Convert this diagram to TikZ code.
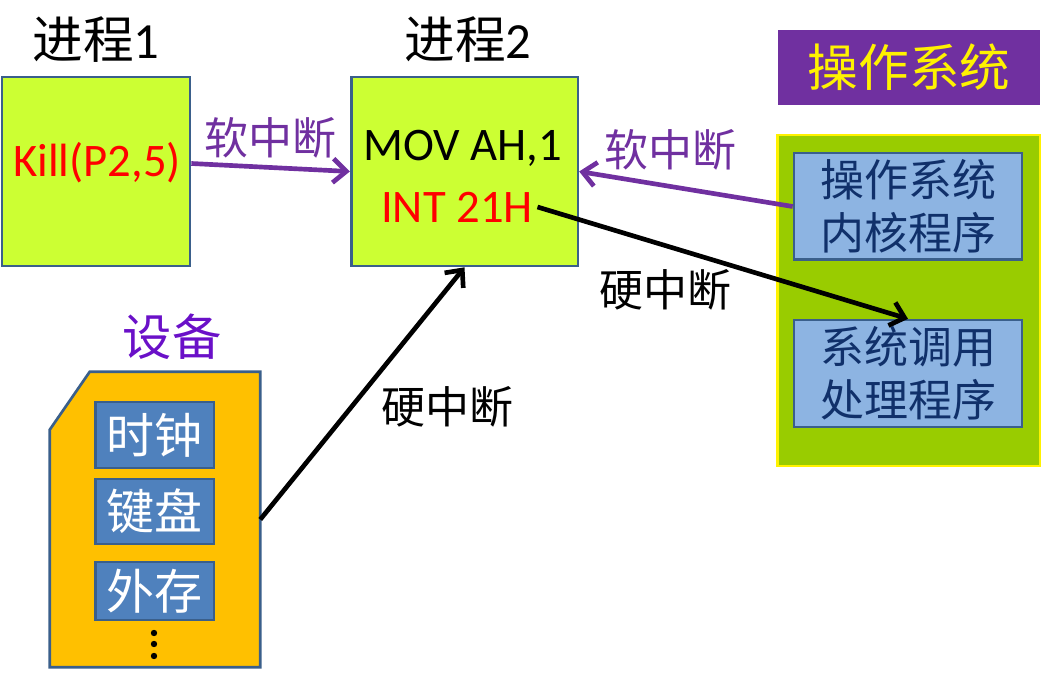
\documentclass[tikz,border=0pt]{standalone}
\usepackage{fontspec}
\setmainfont{Carlito}
\newfontfamily\cjk{Noto Sans CJK SC}
\usetikzlibrary{arrows.meta,positioning,calc}

\definecolor{procgreen}{HTML}{CCFF33}
\definecolor{boxedge}{HTML}{3A5F8B}
\definecolor{softpurple}{HTML}{7030A0}
\definecolor{devpurple}{HTML}{6A10C8}
\definecolor{osgreen}{HTML}{99CC00}
\definecolor{kernblue}{HTML}{8DB4E2}
\definecolor{kerntext}{HTML}{10306A}
\definecolor{devorange}{HTML}{FFC000}
\definecolor{devblue}{HTML}{4F81BD}

\begin{document}
\begin{tikzpicture}[x=0.75pt, y=-0.75pt,
    big/.style={font=\fontsize{35pt}{40pt}\selectfont},
    cjkbig/.style={font=\cjk\fontsize{33pt}{40pt}\selectfont},
    title/.style={font=\cjk\fontsize{38pt}{40pt}\selectfont},
    proc/.style={rectangle, draw=boxedge, line width=2pt, fill=procgreen, minimum height=141.75pt},
    osbox/.style={rectangle, draw=yellow, line width=2pt, fill=osgreen, minimum width=197pt, minimum height=248pt},
    kern/.style={rectangle, draw=boxedge, line width=2pt, fill=kernblue, text=kerntext, align=center,
        minimum width=171pt, minimum height=80pt, inner sep=0pt, font=\cjk\fontsize{33pt}{39.75pt}\selectfont},
    dev/.style={rectangle, draw=boxedge, line width=2pt, fill=devblue, text=white,
        minimum width=89pt, inner sep=0pt, font=\cjk\fontsize{36pt}{40pt}\selectfont},
    arrow/.style={-{Straight Barb[length=10pt,width=18pt]}, line width=3.5pt}
]
    \useasboundingbox (0,0) rectangle (1043,684);

    % processes
    \node[proc, minimum width=141pt] (p1) at (96,171.5) {};
    \node[proc, minimum width=170pt] (p2) at (464.5,171.5) {};
    \node[big, text=red] (kill) at (97,163) {Kill(P2,5)};
    \node[big] (mov) at (463,148) {MOV AH,1};
    \node[big, text=red] (int) at (457,207) {INT 21H};
    \node[title] (t1) at (96,40) {进程\rmfamily 1};
    \node[title] (t2) at (468,40) {进程\rmfamily 2};

    % operating system
    \node[rectangle, fill=softpurple, text=yellow, minimum width=196.5pt, minimum height=56pt,
        font=\cjk\fontsize{38pt}{40pt}\selectfont] (ostitle) at (909,67.5) {操作系统};
    \node[osbox] (os) at (908.5,300.5) {};
    \node[kern] (kernel) at (908,206.5) {操作系统\\内核程序};
    \node[kern] (syscall) at (908,373.5) {系统调用\\处理程序};

    % devices
    \node[rectangle, minimum width=157.5pt, minimum height=221.25pt] (devs) at (155,519.5) {};
    \filldraw[draw=boxedge, line width=2pt, fill=devorange]
        (devs.south west) -- ($(devs.north west)+(0,58)$) -- ($(devs.north west)+(40,0)$)
        -- (devs.north east) -- (devs.south east) -- cycle;
    \node[cjkbig, text=devpurple, font=\cjk\fontsize{37pt}{40pt}\selectfont] (devtitle) at (172,337) {设备};
    \node[dev, minimum height=49.5pt] (clock) at (154.5,435) {时钟};
    \node[dev, minimum height=48.75pt] (keyb) at (154.5,511.5) {键盘};
    \node[dev, minimum height=43.5pt] (disk) at (154.5,591) {外存};
    \foreach \y in {633,644,656}
        \fill (154,\y) circle (2.4pt);

    % interrupts
    \draw[arrow, softpurple] ([yshift=6pt]p1.east) -- (p2.west)
        node[midway, above=2pt, cjkbig] (soft1) {软中断};
    \draw[arrow, softpurple] (kernel.west) -- (p2.east);
    \node[cjkbig, text=softpurple] (soft2) at (670,150) {软中断};
    \draw[arrow] (int.east) -- (syscall.north);
    \node[cjkbig] (hard1) at (665,290) {硬中断};
    \draw[arrow] (devs.east) -- (p2.south);
    \node[cjkbig] (hard2) at (447,407) {硬中断};
\end{tikzpicture}
\end{document}
